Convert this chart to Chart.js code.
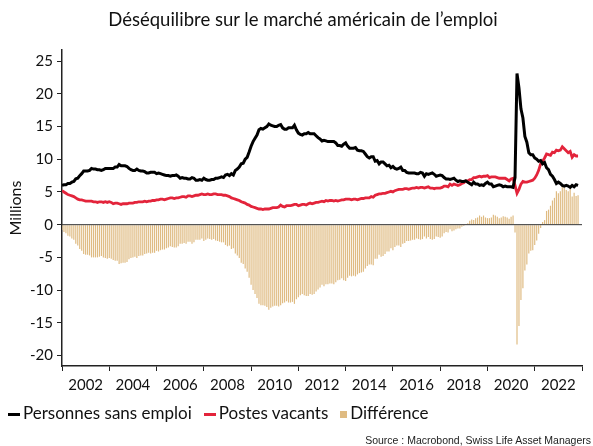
<!DOCTYPE html>
<html lang="fr">
<head>
<meta charset="UTF-8">
<title>Déséquilibre sur le marché américain de l'emploi</title>
<script src="https://cdn.jsdelivr.net/npm/chart.js"></script>
<style>
    body { margin: 0; background: #fff; }
    .wrap { position: relative; width: 593px; height: 446px; font-family: 'Lato', sans-serif; color: #111; }
    canvas { position: absolute; left: 0; top: 0; }
    .title { position: absolute; top: 8px; left: 0; width: 606px; text-align: center; font-size: 18.5px; }
    .legend { position: absolute; top: 402px; left: 8px; font-size: 17px; display: flex; align-items: center; white-space: nowrap; }
    .legend span.item { display: inline-flex; align-items: center; margin-right: 12px; }
    .legend i { display: inline-block; margin-right: 3px; }
    .legend i.line { width: 12px; height: 3px; margin-top: 3px; }
    .legend i.box { width: 7px; height: 7px; margin-top: 3px; }
    .source { position: absolute; top: 434px; right: 2px; font: 10.5px 'Liberation Sans', Arial, sans-serif; color: #222; }
</style>
</head>
<body>
<div class="wrap">
    <canvas id="chart" width="593" height="446"></canvas>
    <div class="title">Déséquilibre sur le marché américain de l’emploi</div>
    <div class="legend">
        <span class="item"><i class="line" style="background:#000"></i>Personnes sans emploi</span>
        <span class="item"><i class="line" style="background:#e3243b"></i>Postes vacants</span>
        <span class="item"><i class="box" style="background:#dfbb82"></i>Différence</span>
    </div>
    <div class="source">Source : Macrobond, Swiss Life Asset Managers</div>
</div>

<script>
    // mensuel, janvier 2001 -> novembre 2022, en millions
    const START_YEAR = 2001;

    const unemployed = [
        6.0, 6.1, 6.1, 6.3, 6.3, 6.5, 6.6, 7.0, 7.1, 7.5, 7.8, 8.2,          // 2001
        8.2, 8.2, 8.3, 8.6, 8.5, 8.5, 8.4, 8.4, 8.3, 8.4, 8.6, 8.6,          // 2002
        8.6, 8.6, 8.6, 8.8, 8.8, 9.2, 9.0, 9.0, 9.0, 8.9, 8.6, 8.4,          // 2003
        8.3, 8.3, 8.5, 8.3, 8.2, 8.2, 8.1, 7.9, 7.9, 8.0, 8.0, 8.0,          // 2004
        7.8, 7.9, 7.8, 7.7, 7.6, 7.5, 7.5, 7.4, 7.5, 7.5, 7.6, 7.4,          // 2005
        7.1, 7.2, 7.1, 7.1, 7.0, 7.0, 7.2, 7.1, 6.8, 6.8, 6.9, 6.8,          // 2006
        7.1, 6.9, 6.8, 6.8, 6.9, 6.9, 7.1, 7.1, 7.2, 7.3, 7.2, 7.6,          // 2007
        7.7, 7.5, 7.8, 7.6, 8.3, 8.5, 8.8, 9.3, 9.4, 10.0, 10.3, 11.1,       // 2008
        12.0, 12.7, 13.2, 13.7, 14.5, 14.7, 14.6, 14.8, 15.0, 15.4, 15.2, 15.1, // 2009
        15.0, 15.0, 15.2, 15.3, 14.8, 14.6, 14.6, 14.8, 14.8, 14.8, 15.2, 14.5, // 2010
        14.0, 13.8, 13.7, 13.9, 13.9, 14.1, 13.9, 13.9, 13.9, 13.6, 13.3, 13.1, // 2011
        12.8, 12.9, 12.8, 12.7, 12.7, 12.7, 12.7, 12.5, 12.1, 12.1, 12.0, 12.3, // 2012
        12.5, 12.0, 11.7, 11.7, 11.7, 11.8, 11.4, 11.3, 11.3, 11.2, 10.8, 10.4, // 2013
        10.2, 10.4, 10.4, 9.7, 9.8, 9.3, 9.6, 9.6, 9.3, 9.0, 9.1, 8.7,       // 2014
        8.9, 8.6, 8.5, 8.6, 8.8, 8.3, 8.3, 8.0, 7.9, 7.9, 7.9, 7.9,          // 2015
        7.8, 7.8, 8.0, 7.9, 7.4, 7.8, 7.7, 7.8, 7.9, 7.7, 7.4, 7.5,          // 2016
        7.6, 7.5, 7.2, 7.0, 7.0, 6.9, 7.0, 7.1, 6.8, 6.6, 6.7, 6.6,          // 2017
        6.6, 6.7, 6.5, 6.3, 6.1, 6.5, 6.2, 6.2, 6.0, 6.1, 6.0, 6.3,          // 2018
        6.5, 6.2, 6.2, 5.8, 5.9, 6.0, 6.1, 6.0, 5.8, 5.9, 5.8, 5.8,          // 2019
        5.8, 5.7, 7.2, 23.1, 20.9, 17.7, 16.3, 13.5, 12.6, 11.0, 10.7, 10.7, // 2020
        10.2, 10.0, 9.7, 9.8, 9.3, 9.5, 8.7, 8.4, 7.7, 7.4, 6.9, 6.3,        // 2021
        6.5, 6.3, 6.0, 5.9, 6.0, 5.9, 5.7, 6.0, 5.8, 6.1, 6.0                // 2022
    ];

    const jobOpenings = [
        5.2, 5.0, 4.8, 4.6, 4.5, 4.4, 4.3, 4.1, 3.9, 3.8, 3.8, 3.7,          // 2001
        3.6, 3.6, 3.6, 3.6, 3.5, 3.5, 3.4, 3.5, 3.5, 3.4, 3.5, 3.4,          // 2002
        3.5, 3.4, 3.2, 3.3, 3.3, 3.2, 3.1, 3.2, 3.2, 3.2, 3.3, 3.3,          // 2003
        3.3, 3.4, 3.4, 3.5, 3.5, 3.5, 3.6, 3.5, 3.6, 3.6, 3.7, 3.7,          // 2004
        3.8, 3.8, 3.9, 3.9, 3.8, 3.9, 4.0, 4.1, 4.1, 4.0, 4.1, 4.1,          // 2005
        4.2, 4.3, 4.3, 4.2, 4.4, 4.4, 4.3, 4.4, 4.5, 4.5, 4.6, 4.7,          // 2006
        4.6, 4.6, 4.7, 4.6, 4.6, 4.7, 4.7, 4.6, 4.6, 4.6, 4.5, 4.5,          // 2007
        4.4, 4.3, 4.1, 4.0, 3.9, 3.8, 3.7, 3.5, 3.4, 3.3, 3.1, 3.0,          // 2008
        2.8, 2.7, 2.6, 2.5, 2.4, 2.4, 2.3, 2.4, 2.4, 2.4, 2.5, 2.6,          // 2009
        2.6, 2.6, 2.7, 3.0, 2.8, 2.7, 2.9, 2.9, 2.9, 3.0, 3.1, 3.1,          // 2010
        2.9, 3.0, 3.1, 3.1, 3.0, 3.2, 3.3, 3.2, 3.3, 3.4, 3.4, 3.5,          // 2011
        3.6, 3.5, 3.7, 3.6, 3.7, 3.7, 3.6, 3.7, 3.6, 3.7, 3.8, 3.8,          // 2012
        3.9, 3.9, 3.9, 3.8, 3.9, 3.9, 3.8, 3.9, 4.0, 4.0, 4.1, 4.1,          // 2013
        4.1, 4.3, 4.2, 4.5, 4.6, 4.7, 4.7, 4.8, 4.8, 4.9, 5.0, 5.1,          // 2014
        5.0, 5.2, 5.3, 5.4, 5.4, 5.4, 5.5, 5.5, 5.4, 5.5, 5.6, 5.6,          // 2015
        5.7, 5.6, 5.7, 5.7, 5.6, 5.7, 5.8, 5.6, 5.6, 5.5, 5.6, 5.6,          // 2016
        5.6, 5.7, 5.9, 5.9, 5.8, 6.2, 6.0, 6.2, 6.1, 6.0, 6.1, 6.3,          // 2017
        6.4, 6.7, 6.7, 6.9, 6.9, 7.2, 7.2, 7.3, 7.4, 7.3, 7.4, 7.4,          // 2018
        7.5, 7.2, 7.3, 7.3, 7.3, 7.2, 7.1, 7.1, 7.1, 7.1, 6.9, 6.7,          // 2019
        7.0, 7.1, 6.0, 4.8, 5.4, 6.2, 6.6, 6.5, 6.5, 6.6, 6.7, 6.8,          // 2020
        7.1, 7.6, 8.3, 9.3, 9.7, 10.2, 10.8, 10.7, 10.6, 11.1, 11.0, 11.4,   // 2021
        11.3, 11.4, 11.9, 11.6, 11.3, 11.0, 11.2, 10.3, 10.7, 10.5, 10.5     // 2022
    ];

    const yearTicks = [2002, 2004, 2006, 2008, 2010, 2012, 2014, 2016, 2018, 2020, 2022];
    const valueTicks = [-20, -15, -10, -5, 0, 5, 10, 15, 20, 25];

    // postes vacants moins personnes sans emploi
    const difference = jobOpenings.map((v, i) => +(v - unemployed[i]).toFixed(1));
    const months = unemployed.map((_, i) => START_YEAR + i / 12);
    const points = arr => arr.map((v, i) => ({ x: months[i], y: v }));

    const zeroLine = {
        id: 'zeroLine',
        afterDatasetsDraw(chart) {
            const { ctx, chartArea, scales } = chart;
            const y = scales.y.getPixelForValue(0);
            ctx.save();
            ctx.strokeStyle = '#333';
            ctx.lineWidth = 1;
            ctx.beginPath();
            ctx.moveTo(chartArea.left, y);
            ctx.lineTo(chartArea.right, y);
            ctx.stroke();
            ctx.restore();
        }
    };

    new Chart(document.getElementById('chart'), {
        type: 'bar',
        data: {
            datasets: [
                {
                    type: 'line', label: 'Personnes sans emploi', data: points(unemployed),
                    borderColor: '#000', borderWidth: 3, pointRadius: 0, order: 1
                },
                {
                    type: 'line', label: 'Postes vacants', data: points(jobOpenings),
                    borderColor: '#e3243b', borderWidth: 2.8, pointRadius: 0, order: 2
                },
                {
                    type: 'bar', label: 'Différence', data: points(difference),
                    backgroundColor: '#dfbb82', barPercentage: 0.6, categoryPercentage: 1,
                    order: 3
                }
            ]
        },
        options: {
            responsive: false,
            animation: false,
            layout: { padding: { top: 50, right: 11, left: 0, bottom: 0 } },
            plugins: { legend: { display: false }, title: { display: false }, tooltip: { enabled: false } },
            scales: {
                x: {
                    type: 'linear', min: 2001, max: 2023, offset: false,
                    afterFit: s => { s.height = 80; },
                    afterBuildTicks: s => { s.ticks = yearTicks.map(v => ({ value: v })); },
                    grid: { drawOnChartArea: false, drawTicks: true, tickLength: 5, color: '#222' },
                    border: { display: true, color: '#222', width: 1.5 },
                    ticks: { padding: 5, maxRotation: 0, autoSkip: false, color: '#111',
                             font: { family: 'Lato', size: 15 }, callback: v => String(v) }
                },
                y: {
                    min: -21.6, max: 26.7,
                    afterFit: s => { s.width = 62; },
                    afterBuildTicks: s => { s.ticks = valueTicks.map(v => ({ value: v })); },
                    grid: { drawOnChartArea: false, drawTicks: true, tickLength: 5, color: '#222' },
                    border: { display: true, color: '#222', width: 1.5 },
                    ticks: { padding: 4, color: '#111', font: { family: 'Lato', size: 15 } },
                    title: { display: true, text: 'Millions', color: '#111',
                             font: { family: 'Lato', size: 16 }, padding: { top: 6, bottom: 0 } }
                }
            }
        },
        plugins: [zeroLine]
    });
</script>
</body>
</html>
